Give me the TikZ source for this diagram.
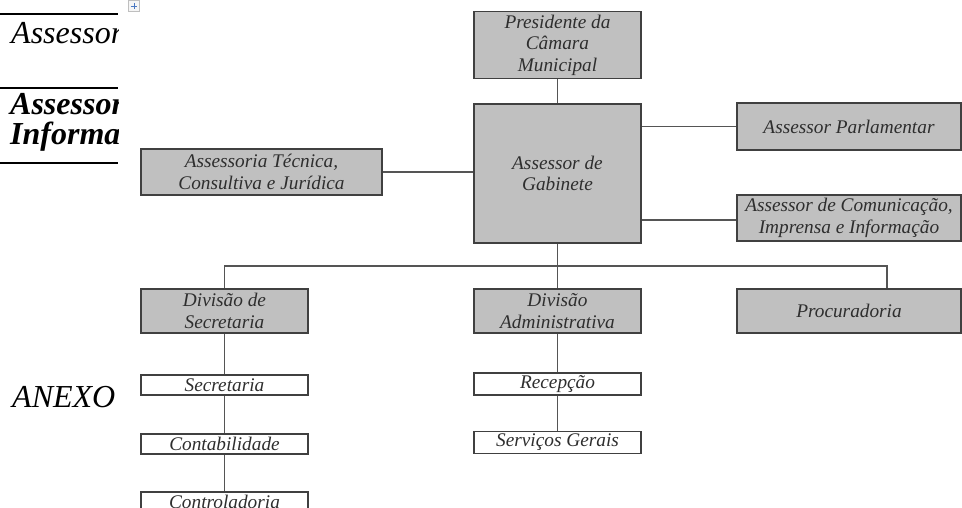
\documentclass[tikz,border=0pt]{standalone}
\usepackage{fontspec}
\setmainfont{Liberation Serif}
\definecolor{boxfill}{HTML}{C0C0C0}
\definecolor{boxline}{HTML}{404040}
\definecolor{conn}{HTML}{555555}
\definecolor{txt}{HTML}{2E2E2E}
\definecolor{iconblue}{HTML}{4A78C2}
\begin{document}
\begin{tikzpicture}[x=1pt,y=-1pt,
  orgbox/.style={draw=boxline, fill=boxfill, line width=1.3pt, inner sep=0pt,
    align=center, text=txt, font=\itshape\fontsize{19.3}{21.5}\selectfont},
  subbox/.style={orgbox, fill=white},
  link/.style={draw=conn, line width=1.2pt},
  pagetext/.style={anchor=base west, inner sep=0pt, text=black, font=\fontsize{32}{32}\selectfont}]
\useasboundingbox (0,0) rectangle (962,508);
\fill[white] (0,0) rectangle (962,508);
% left page fragments
\begin{scope}
\clip (0,0) rectangle (118,508);
\draw[black, line width=1.3pt] (0,14) -- (118,14);
\draw[black, line width=1.3pt] (0,88) -- (118,88);
\draw[black, line width=1.3pt] (0,163) -- (118,163);
\node[pagetext, font=\itshape\fontsize{32}{32}\selectfont] (t1) at (11,44) {Assessor};
\node[pagetext, font=\bfseries\itshape\fontsize{32}{32}\selectfont] (t2) at (10,115) {Assessor};
\node[pagetext, font=\bfseries\itshape\fontsize{32}{32}\selectfont] (t3) at (10,145) {Informa};
\node[pagetext, font=\itshape\fontsize{32}{32}\selectfont] (t4) at (12,407) {ANEXO};
\end{scope}
% small move icon
\node[draw=black!25, fill=black!4, minimum width=11pt, minimum height=11pt, inner sep=0pt] (icon) at (134,6) {};
\draw[iconblue, line width=0.9pt] (icon.west) ++(2.5,0) -- ++(6,0);
\draw[iconblue, line width=0.9pt] (icon.north) ++(0,2.5) -- ++(0,6);
% organisation chart
\begin{scope}
\clip (0,0) rectangle (962,508);
\node[orgbox, minimum width=167pt, minimum height=67pt] (pres) at (557.5,45) {Presidente da\\Câmara\\Municipal};
\node[orgbox, minimum width=167pt, minimum height=139pt] (gab) at (557.5,173.5) {Assessor de\\Gabinete};
\node[orgbox, minimum width=241pt, minimum height=46pt] (tec) at (261.5,172) {Assessoria Técnica,\\Consultiva e Jurídica};
\node[orgbox, minimum width=224pt, minimum height=47pt] (parl) at (849,126.5) {Assessor Parlamentar};
\node[orgbox, minimum width=224pt, minimum height=46pt] (com) at (849,218) {Assessor de Comunicação,\\Imprensa e Informação};
\node[orgbox, minimum width=167pt, minimum height=44pt] (dsec) at (224.5,311) {Divisão de\\Secretaria};
\node[orgbox, minimum width=167pt, minimum height=44pt] (dadm) at (557.5,311) {Divisão\\Administrativa};
\node[orgbox, minimum width=224pt, minimum height=44pt] (proc) at (849,311) {Procuradoria};
\node[subbox, minimum width=167pt, minimum height=20pt] (sec) at (224.5,385) {Secretaria};
\node[subbox, minimum width=167pt, minimum height=20pt] (cont) at (224.5,444) {Contabilidade};
\node[subbox, minimum width=167pt, minimum height=20pt] (ctrl) at (224.5,502) {Controladoria};
\node[subbox, minimum width=167pt, minimum height=22pt] (recep) at (557.5,384) {Recepção};
\node[subbox, minimum width=167pt, minimum height=22pt] (serv) at (557.5,442.5) {Serviços Gerais};
\coordinate (bus) at (557.5,266);
\coordinate (procin) at ([xshift=38pt]proc.north);
\draw[link] (pres.south) -- (gab.north);
\draw[link] (tec.east) -- (tec.east -| gab.west);
\draw[link] (parl.west -| gab.east) -- (parl.west);
\draw[link] ([yshift=-2pt]com.west -| gab.east) -- ([yshift=-2pt]com.west);
\draw[link] (gab.south) -- (bus);
\draw[link] (dsec.north) -- (dsec.north |- bus) -- (procin |- bus) -- (procin);
\draw[link] (bus) -- (dadm.north);
\draw[link] (dsec.south) -- (sec.north);
\draw[link] (sec.south) -- (cont.north);
\draw[link] (cont.south) -- (ctrl.north);
\draw[link] (dadm.south) -- (recep.north);
\draw[link] (recep.south) -- (serv.north);
\end{scope}
\end{tikzpicture}
\end{document}
